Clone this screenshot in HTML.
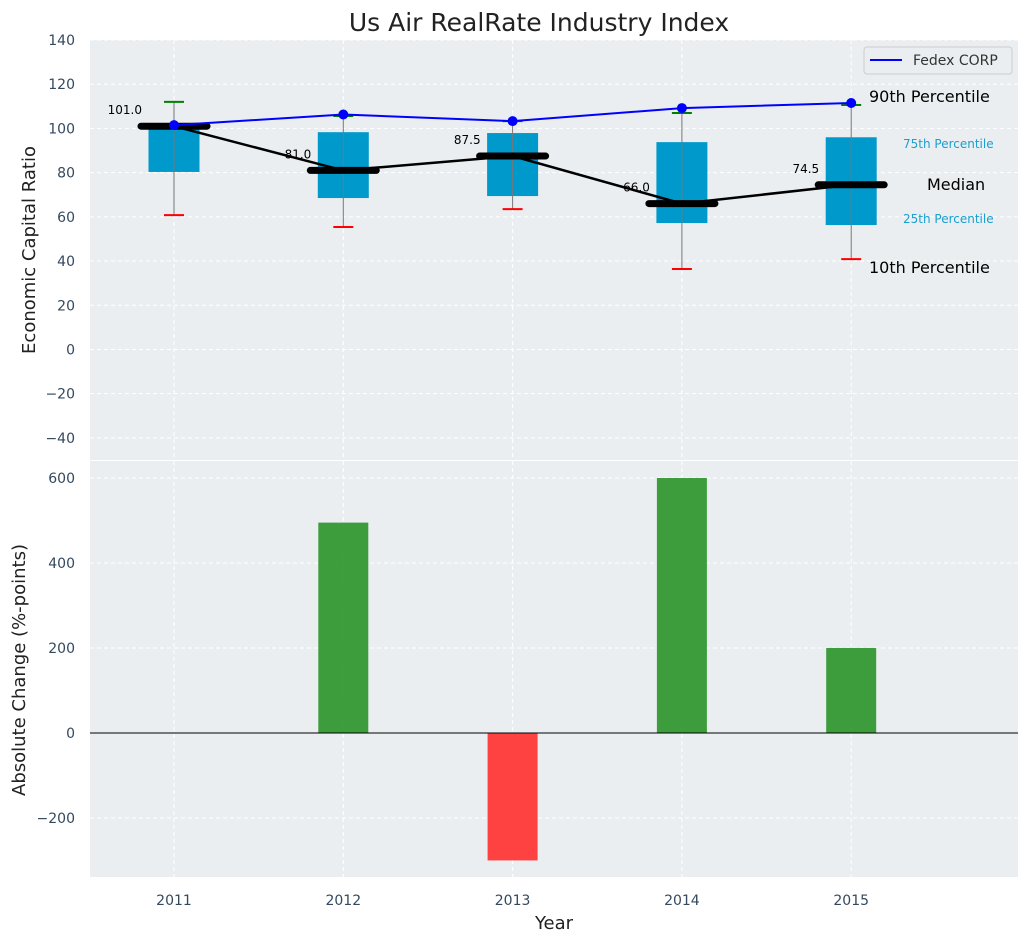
<!DOCTYPE html>
<html><head><meta charset="utf-8"><style>
body{margin:0;background:#fff;font-family:"Liberation Sans","DejaVu Sans",sans-serif}
</style></head><body>
<svg id="chart" width="1029" height="942" xmlns="http://www.w3.org/2000/svg" font-family="DejaVu Sans, Liberation Sans, sans-serif"></svg>
<script>
const years=[2011,2012,2013,2014,2015];
const p10=[60.8,55.4,63.5,36.4,40.9];
const p25=[80.3,68.5,69.4,57.2,56.3];
const medians=[101.0,81.0,87.5,66.0,74.5];
const p75=[102,98.3,97.9,93.8,96];
const p90=[112,105.6,103.3,107,110.6];
const fedex=[101.5,106.3,103.3,109.2,111.5];
const changes=[0,495,-300,600,200];
const topTicks=[-40,-20,0,20,40,60,80,100,120,140];
const botTicks=[-200,0,200,400,600];

const svg=document.getElementById('chart');
const NS='http://www.w3.org/2000/svg';
function el(t,a,txt){const e=document.createElementNS(NS,t);for(const k in a)e.setAttribute(k,a[k]);if(txt!==undefined)e.textContent=txt;svg.appendChild(e);return e;}
const L=90,R=1018;
const x=v=>174+(v-2011)*169.3;
const T1=40,B1=460,y1=v=>B1-(v+50)/(190)*(B1-T1);
const T2=461,B2=877,y2=v=>B2-(v+339)/(979)*(B2-T2);

let e;
e=el('rect',{x:L,y:T1,width:R-L,height:B1-T1,fill:'#eaeef0'});

e=el('rect',{x:L,y:T2,width:R-L,height:B2-T2,fill:'#eaeef0'});

years.forEach(yr=>{
 e=el('line',{x1:x(yr),x2:x(yr),y1:T1,y2:B1,stroke:'#fff','stroke-dasharray':'4,3'});
 
 e=el('line',{x1:x(yr),x2:x(yr),y1:T2,y2:B2,stroke:'#fff','stroke-dasharray':'4,3'});
 
 e=el('text',{x:x(yr),y:905,'text-anchor':'middle','font-size':14,fill:'#34495e'},yr);
 
});
topTicks.forEach(t=>{
 e=el('line',{x1:L,x2:R,y1:y1(t),y2:y1(t),stroke:'#fff','stroke-dasharray':'4,3'});
 
 e=el('text',{x:75,y:y1(t)+5,'text-anchor':'end','font-size':14,fill:'#34495e'},t<0?'−'+(-t):t);
 
});
botTicks.forEach(t=>{
 e=el('line',{x1:L,x2:R,y1:y2(t),y2:y2(t),stroke:'#fff','stroke-dasharray':'4,3'});
 
 e=el('text',{x:75,y:y2(t)+5,'text-anchor':'end','font-size':14,fill:'#34495e'},t<0?'−'+(-t):t);
 
});
const hw=25.5;
years.forEach((yr,i)=>{
 const cx=x(yr);
 e=el('rect',{x:cx-hw,y:y1(p75[i]),width:2*hw,height:y1(p25[i])-y1(p75[i]),fill:'#0099cc'});
 
 e=el('line',{x1:cx,x2:cx,y1:y1(p10[i]),y2:y1(p90[i]),stroke:'#777','stroke-width':1});
 
 e=el('line',{x1:cx-10,x2:cx+10,y1:y1(p90[i]),y2:y1(p90[i]),stroke:'green','stroke-width':2});
 
 e=el('line',{x1:cx-10,x2:cx+10,y1:y1(p10[i]),y2:y1(p10[i]),stroke:'red','stroke-width':2});
 
});
e=el('polyline',{points:years.map((yr,i)=>x(yr)+','+y1(medians[i])).join(' '),fill:'none',stroke:'#000','stroke-width':2.5});

years.forEach((yr,i)=>{
 const cx=x(yr);
 e=el('line',{x1:cx-33,x2:cx+33,y1:y1(medians[i]),y2:y1(medians[i]),stroke:'#000','stroke-width':7,'stroke-linecap':'round'});
 
 e=el('text',{x:cx-32,y:y1(medians[i])-12,'text-anchor':'end','font-size':12,fill:'#000'},medians[i].toFixed(1));
 
});
e=el('polyline',{points:years.map((yr,i)=>x(yr)+','+y1(fedex[i])).join(' '),fill:'none',stroke:'blue','stroke-width':2});

years.forEach((yr,i)=>{
 e=el('circle',{cx:x(yr),cy:y1(fedex[i]),r:5,fill:'blue'});
 
});
[['90th Percentile',869,102,16,'#000'],['75th Percentile',903,148,12,'#1a9fd0'],['Median',927,190,16,'#000'],['25th Percentile',903,223,12,'#1a9fd0'],['10th Percentile',869,273,16,'#000']].forEach(a=>{
 e=el('text',{x:a[1],y:a[2],'font-size':a[3],fill:a[4]},a[0]);
 
});
e=el('rect',{x:864,y:47,width:148,height:27,rx:3,fill:'#eaeef0',stroke:'#ccc'});

e=el('line',{x1:870,x2:902,y1:60,y2:60,stroke:'blue','stroke-width':2});

e=el('text',{x:913,y:65,'font-size':14,fill:'#333'},'Fedex CORP');

years.forEach((yr,i)=>{
 const v=changes[i];
 e=el('rect',{x:x(yr)-hw+0.5,y:Math.min(y2(v),y2(0)),width:2*hw-1,height:Math.abs(y2(v)-y2(0)),fill:v>=0?'#2e962e':'#ff3333','fill-opacity':0.92});
 
});
e=el('line',{x1:L,x2:R,y1:y2(0),y2:y2(0),stroke:'#000','stroke-width':1});

e=el('text',{x:539,y:31,'text-anchor':'middle','font-size':25,fill:'#222'},'Us Air RealRate Industry Index');

e=el('text',{x:0,y:0,'text-anchor':'middle','font-size':18,fill:'#222',transform:'translate(35,250) rotate(-90)'},'Economic Capital Ratio');

e=el('text',{x:0,y:0,'text-anchor':'middle','font-size':18,fill:'#222',transform:'translate(25,670) rotate(-90)'},'Absolute Change (%-points)');

e=el('text',{x:554,y:929,'text-anchor':'middle','font-size':18,fill:'#222'},'Year');

</script>
</body></html>
